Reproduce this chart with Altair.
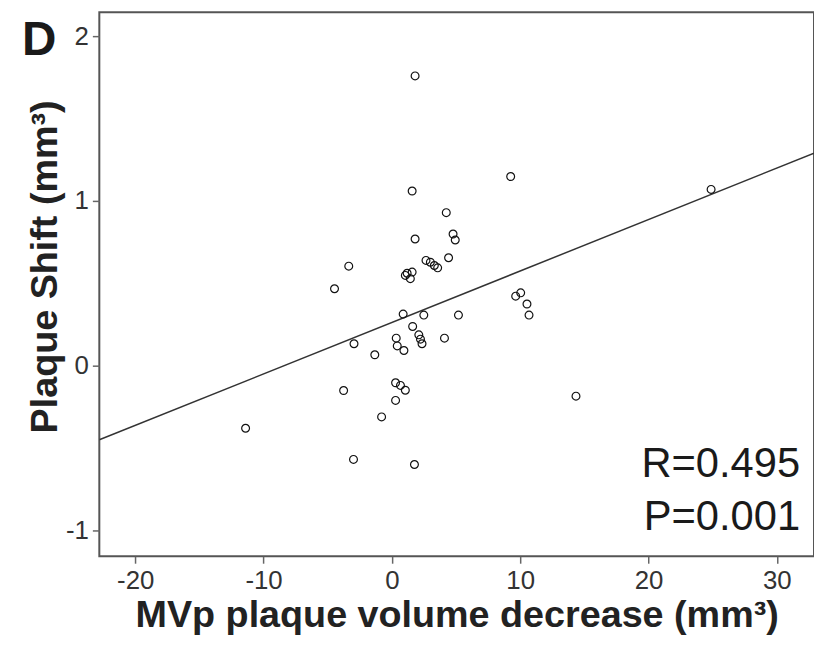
import altair as alt
import pandas as pd

# Scatter data
mvp_decrease = [1.81, 9.26, 24.88, 1.58, 4.24, 1.81, 4.77, 4.94, -3.36, -4.47,
                4.42, 2.66, 3.00, 3.31, 3.57, 1.19, 1.58, 1.44, 1.05, 0.88,
                2.49, 5.19, 1.62, -2.95, 0.34, 0.42, 0.94, 2.10, 2.23, 2.35,
                4.10, -1.33, 0.29, 0.67, 1.05, -3.76, 0.29, -0.80, -2.99, 1.76,
                -11.40, 9.65, 10.04, 10.53, 10.69, 14.35]
plaque_shift = [1.759, 1.148, 1.070, 1.060, 0.929, 0.769, 0.799, 0.763, 0.604, 0.467,
                0.655, 0.639, 0.628, 0.608, 0.594, 0.561, 0.568, 0.528, 0.548, 0.313,
                0.307, 0.307, 0.238, 0.133, 0.167, 0.120, 0.092, 0.187, 0.161, 0.133,
                0.167, 0.066, -0.104, -0.120, -0.149, -0.151, -0.211, -0.311, -0.569, -0.600,
                -0.380, 0.422, 0.442, 0.374, 0.307, -0.185]

# Fit line endpoints
fit_x = [-22.8, 32.9]
fit_y = [-0.45, 1.29]

x_ticks = [-20, -10, 0, 10, 20, 30]
y_ticks = [-1, 0, 1, 2]
x_domain = [-22.8, 32.9]
y_domain = [-1.157, 2.145]

stat_r = "R=0.495"
stat_p = "P=0.001"
panel_label = "D"

pts = pd.DataFrame({"x": mvp_decrease, "y": plaque_shift})
fit = pd.DataFrame({"x": fit_x, "y": fit_y})

FONT = "Liberation Sans"

xs = alt.Scale(domain=x_domain, nice=False, zero=False)
ys = alt.Scale(domain=y_domain, nice=False, zero=False)

x_axis = alt.Axis(values=x_ticks, title="MVp plaque volume decrease (mm³)",
                  titlePadding=4, labelExpr="'' + datum.value")
y_axis = alt.Axis(values=y_ticks, title="Plaque Shift (mm³)",
                  titlePadding=1, titleY=256, labelExpr="'' + datum.value")

line = alt.Chart(fit).mark_line(color="#333", strokeWidth=1.5, clip=True).encode(
    x=alt.X("x:Q", scale=xs, axis=x_axis),
    y=alt.Y("y:Q", scale=ys, axis=y_axis),
)

points = alt.Chart(pts).mark_point(
    shape="circle", filled=False, color="#111", size=62, strokeWidth=1.2, opacity=1
).encode(
    x=alt.X("x:Q", scale=xs, axis=x_axis),
    y=alt.Y("y:Q", scale=ys, axis=y_axis),
)

def text_layer(txt, size, weight, align, xpix, ypix):
    return alt.Chart(pd.DataFrame({"t": [txt]})).mark_text(
        font=FONT, fontSize=size, fontWeight=weight, color="#1a1a1a",
        align=align, baseline="alphabetic"
    ).encode(x=alt.value(xpix), y=alt.value(ypix), text="t:N")

r_text = text_layer(stat_r, 42, "normal", "right", 706, 468)
p_text = text_layer(stat_p, 42, "normal", "right", 706, 522)
label = text_layer(panel_label, 48, "bold", "left", -78, 43)

chart = alt.layer(line, points, r_text, p_text, label).properties(
    width=720,
    height=548,
    autosize=alt.AutoSizeParams(type="none"),
    padding={"left": 92, "top": 2, "right": 0, "bottom": 80},
).configure_view(
    stroke="#555", strokeWidth=2
).configure_axis(
    grid=False, domain=False, tickColor="#666", tickSize=7, tickWidth=1.5,
    labelFont=FONT, labelFontSize=26, labelColor="#333", labelPadding=4,
    titleFont=FONT, titleFontSize=38, titleFontWeight="bold", titleColor="#222",
)

chart.save("out.html", embed_options={"renderer": "svg", "actions": False})
